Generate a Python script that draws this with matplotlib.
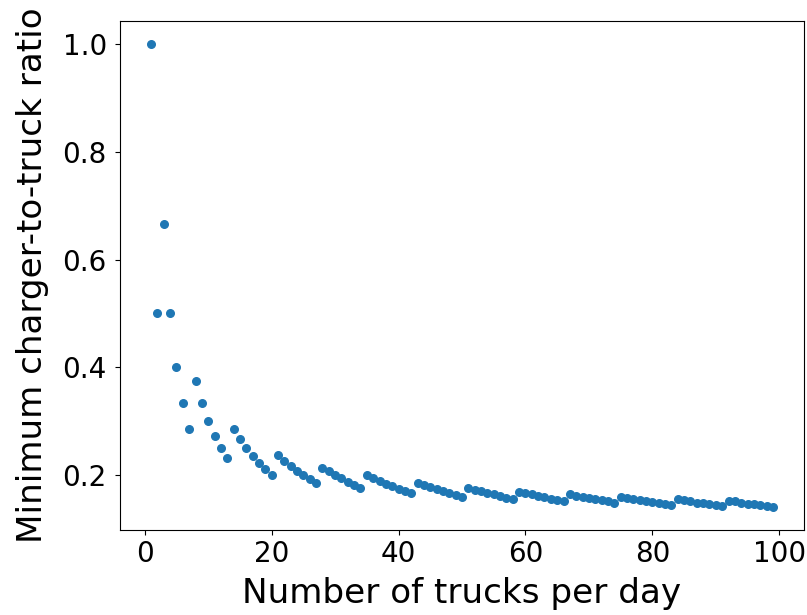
import matplotlib
matplotlib.use("Agg")
import matplotlib.pyplot as plt

trucks_per_day = list(range(1, 100))
min_ratio = [
    1.0, 0.5, 0.667, 0.5, 0.4, 0.333, 0.286, 0.375, 0.333, 0.3,
    0.273, 0.25, 0.231, 0.286, 0.267, 0.25, 0.235, 0.222, 0.211, 0.2,
    0.238, 0.227, 0.217, 0.208, 0.2, 0.192, 0.185, 0.214, 0.207, 0.2,
    0.194, 0.188, 0.182, 0.176, 0.2, 0.194, 0.189, 0.184, 0.179, 0.175,
    0.171, 0.167, 0.186, 0.182, 0.178, 0.174, 0.170, 0.167, 0.163, 0.16,
    0.176, 0.173, 0.170, 0.167, 0.164, 0.161, 0.158, 0.155, 0.169, 0.167,
    0.164, 0.161, 0.159, 0.156, 0.154, 0.152, 0.164, 0.162, 0.159, 0.157,
    0.155, 0.153, 0.151, 0.149, 0.16, 0.158, 0.156, 0.154, 0.152, 0.15,
    0.148, 0.146, 0.145, 0.155, 0.153, 0.151, 0.149, 0.148, 0.146, 0.144,
    0.143, 0.152, 0.151, 0.149, 0.147, 0.146, 0.144, 0.143, 0.141,
]

fig = plt.figure(figsize=(8.07, 6.15), dpi=100)
ax = fig.add_axes([0.1487, 0.1382, 0.8476, 0.8277])
ax.scatter(trucks_per_day, min_ratio, s=30, color="#1f77b4")
ax.set_xlabel("Number of trucks per day", fontsize=24.6, labelpad=7)
ax.set_ylabel("Minimum charger-to-truck ratio", fontsize=24.6, labelpad=10)
ax.tick_params(labelsize=20)
ax.tick_params(axis="y", pad=6)
ax.set_xticks([0, 20, 40, 60, 80, 100])
ax.set_yticks([0.2, 0.4, 0.6, 0.8, 1.0])
fig.savefig("out.png", dpi=100)
